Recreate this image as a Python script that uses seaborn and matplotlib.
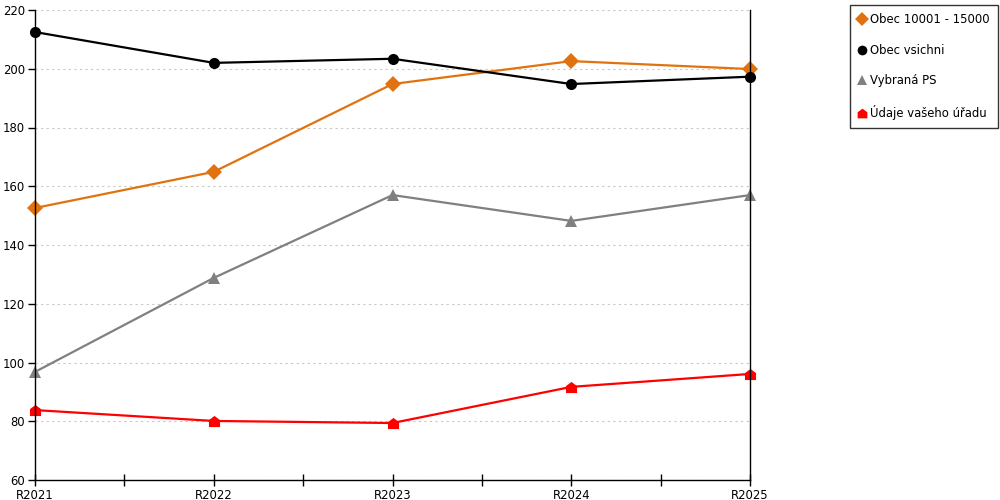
import numpy as np
import pandas as pd
import seaborn as sns
import matplotlib.pyplot as plt
from matplotlib.ticker import FixedLocator

roky = ['R2021', 'R2022', 'R2023', 'R2024', 'R2025']
serie = ['Obec 10001 - 15000', 'Obec vsichni', 'Vybraná PS', 'Údaje vašeho úřadu']
obec_10001 = [152.6, 164.9, 194.8, 202.6, 199.9]
obec_vsichni = [212.5, 202.0, 203.4, 194.8, 197.3]
vybrana_ps = [96.8, 128.8, 157.0, 148.2, 157.0]
udaje_uradu = [83.8, 80.1, 79.4, 91.7, 96.1]

barvy = ['#e0730f', '#000000', '#808080', '#ff0000']
domek = [(-1, -1), (1, -1), (1, 0.25), (0, 1), (-1, 0.25), (-1, -1)]
znacky = ['D', 'o', '^', domek]

df = pd.DataFrame({
    'rok': roky * 4,
    'hodnota': obec_10001 + obec_vsichni + vybrana_ps + udaje_uradu,
    'rada': sum([[s] * len(roky) for s in serie], []),
})

sns.set_style('white')
plt.rcParams['font.family'] = ['DejaVu Sans']
plt.rcParams['text.color'] = 'black'

fig = plt.figure(figsize=(10, 5), dpi=100)
ax = fig.add_axes([0.035, 0.04, 0.715, 0.94])

sns.lineplot(data=df, x='rok', y='hodnota', hue='rada', style='rada',
             hue_order=serie, style_order=serie, palette=barvy,
             markers=znacky, dashes=False, markersize=8, linewidth=1.6,
             markeredgewidth=0, ax=ax, legend=True)
for ln in ax.lines:
    ln.set_clip_on(False)

ax.set_xlim(0, 4)
ax.set_ylim(60, 220)
ax.set_yticks(np.arange(60, 221, 20))
ax.xaxis.set_minor_locator(FixedLocator([0.5, 1.5, 2.5, 3.5]))
ax.set_xlabel('')
ax.set_ylabel('')
ax.grid(axis='y', color='#c8c8c8', linestyle=(0, (2, 3)), linewidth=0.8)
ax.set_axisbelow(True)

for side in ['left', 'bottom', 'right']:
    ax.spines[side].set_visible(True)
    ax.spines[side].set_color('black')
    ax.spines[side].set_linewidth(1)
ax.spines['top'].set_visible(False)

ax.tick_params(axis='y', which='major', direction='out', length=5, width=1,
               labelsize=8.4, colors='black', pad=2, left=True)
ax.tick_params(axis='x', which='both', direction='inout', length=9, width=1,
               labelsize=8.4, colors='black', pad=2, bottom=True)

handles, labels = ax.get_legend_handles_labels()
ax.get_legend().remove()
for h in handles:
    h.set_linestyle('None')
    h.set_markersize(7)
leg = fig.legend(handles, labels, loc='upper right', bbox_to_anchor=(0.998, 0.99),
                 frameon=True, fancybox=False, edgecolor='black', fontsize=8.4,
                 labelspacing=1.5, handlelength=0.6, handletextpad=0.4,
                 borderpad=0.7, borderaxespad=0)
leg.get_frame().set_linewidth(1)
for t in leg.get_texts():
    t.set_color('black')

fig.savefig('out.png', dpi=100)
